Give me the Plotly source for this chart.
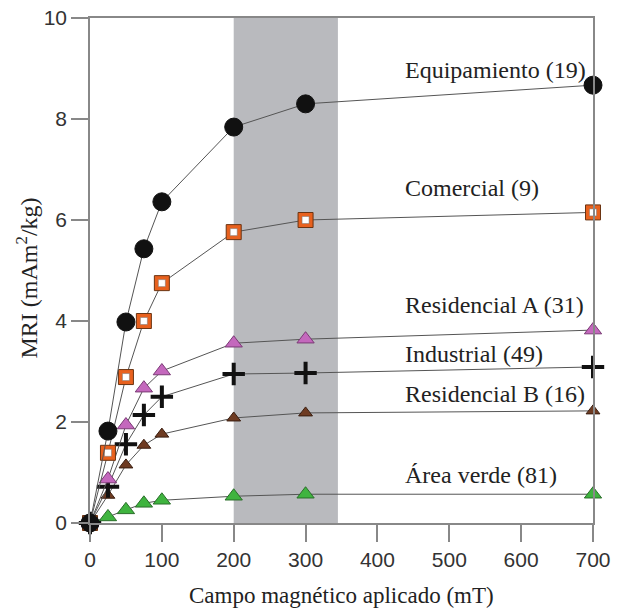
import plotly.graph_objects as go

field_mT = [0, 25, 50, 75, 100, 200, 300, 700]

equipamiento = [0, 1.82, 3.98, 5.43, 6.36, 7.84, 8.30, 8.67]
comercial = [0, 1.39, 2.89, 4.00, 4.75, 5.76, 6.00, 6.15]
residencial_a = [0, 0.87, 1.94, 2.67, 3.01, 3.56, 3.64, 3.82]
industrial = [0, 0.72, 1.56, 2.14, 2.50, 2.95, 2.97, 3.09]
residencial_b = [0, 0.55, 1.15, 1.54, 1.76, 2.08, 2.18, 2.22]
area_verde = [0, 0.12, 0.26, 0.39, 0.45, 0.53, 0.57, 0.57]

series_labels = ["Equipamiento (19)", "Comercial (9)", "Residencial A (31)",
                 "Industrial (49)", "Residencial B (16)", "Área verde (81)"]
label_y = [8.97, 6.63, 4.32, 3.35, 2.55, 0.95]
label_x = 436

shade_range = [200, 345]
x_ticks = [0, 100, 200, 300, 400, 500, 600, 700]
y_ticks = [0, 2, 4, 6, 8, 10]

LINE = dict(color="#555555", width=1)
SERIF = "Liberation Serif, Times New Roman, serif"
SANS = "Liberation Sans, Arial, sans-serif"

fig = go.Figure()

fig.add_shape(type="rect", xref="x", yref="y", x0=shade_range[0], x1=shade_range[1],
              y0=0, y1=10, fillcolor="#b9babe", line_width=0, layer="below")

def add(y, symbol, size, color, outline, lw=1):
    fig.add_trace(go.Scatter(
        x=field_mT, y=y, mode="lines+markers", line=LINE, cliponaxis=False,
        marker=dict(symbol=symbol, size=size, color=color,
                    line=dict(color=outline, width=lw)),
        showlegend=False, hoverinfo="x+y"))

add(area_verde, "triangle-up", 15, "#3fb43f", "#2a6e2a")
add(residencial_b, "triangle-up", 12, "#6e3b22", "#3a1e10")
add(industrial, "cross-thin", 16, "#111111", "#111111", 4)
add(residencial_a, "triangle-up", 15, "#c468bd", "#7a3a75")
# Comercial: orange square with white centre
add(comercial, "square", 15, "#e8611e", "#6b3412")
fig.add_trace(go.Scatter(x=field_mT, y=comercial, mode="markers", cliponaxis=False,
                         marker=dict(symbol="square", size=7, color="white",
                                     line=dict(color="#777777", width=0.5)),
                         showlegend=False, hoverinfo="skip"))
add(equipamiento, "circle", 18, "#111111", "#111111")

for txt, yy in zip(series_labels, label_y):
    fig.add_annotation(x=label_x, y=yy, xref="x", yref="y", text=txt,
                       showarrow=False, xanchor="left", yanchor="middle",
                       font=dict(family=SERIF, size=24, color="#222222"))

fig.add_annotation(x=0, y=0.5, xref="paper", yref="paper", xshift=-64, yshift=-8,
                   text="MRI (mAm<sup>2</sup>/kg)", textangle=-90, showarrow=False,
                   xanchor="center", yanchor="middle",
                   font=dict(family=SERIF, size=24, color="#222222"))
fig.add_annotation(x=0.5, y=0, xref="paper", yref="paper", yshift=-72,
                   text="Campo magnético aplicado (mT)", showarrow=False,
                   xanchor="center", yanchor="middle",
                   font=dict(family=SERIF, size=23, color="#222222"))

axis_common = dict(showgrid=False, zeroline=False, showline=True, mirror=True,
                   linecolor="#888888", linewidth=1.5, ticks="outside", ticklen=17,
                   tickcolor="#888888", tickwidth=1.5, automargin=False,
                   tickfont=dict(family=SANS, size=21, color="#333333"))

fig.update_xaxes(range=[0, 700], tickvals=x_ticks, **axis_common)
fig.update_yaxes(range=[0, 10], tickvals=y_ticks, **axis_common)

fig.update_layout(width=618, height=610, margin=dict(l=90, r=25, t=18, b=87),
                  plot_bgcolor="white", paper_bgcolor="white", hovermode=False)

fig.write_html("out.html", config={"displayModeBar": False},
               post_script="document.body.style.margin='0';document.body.style.overflow='hidden';")
